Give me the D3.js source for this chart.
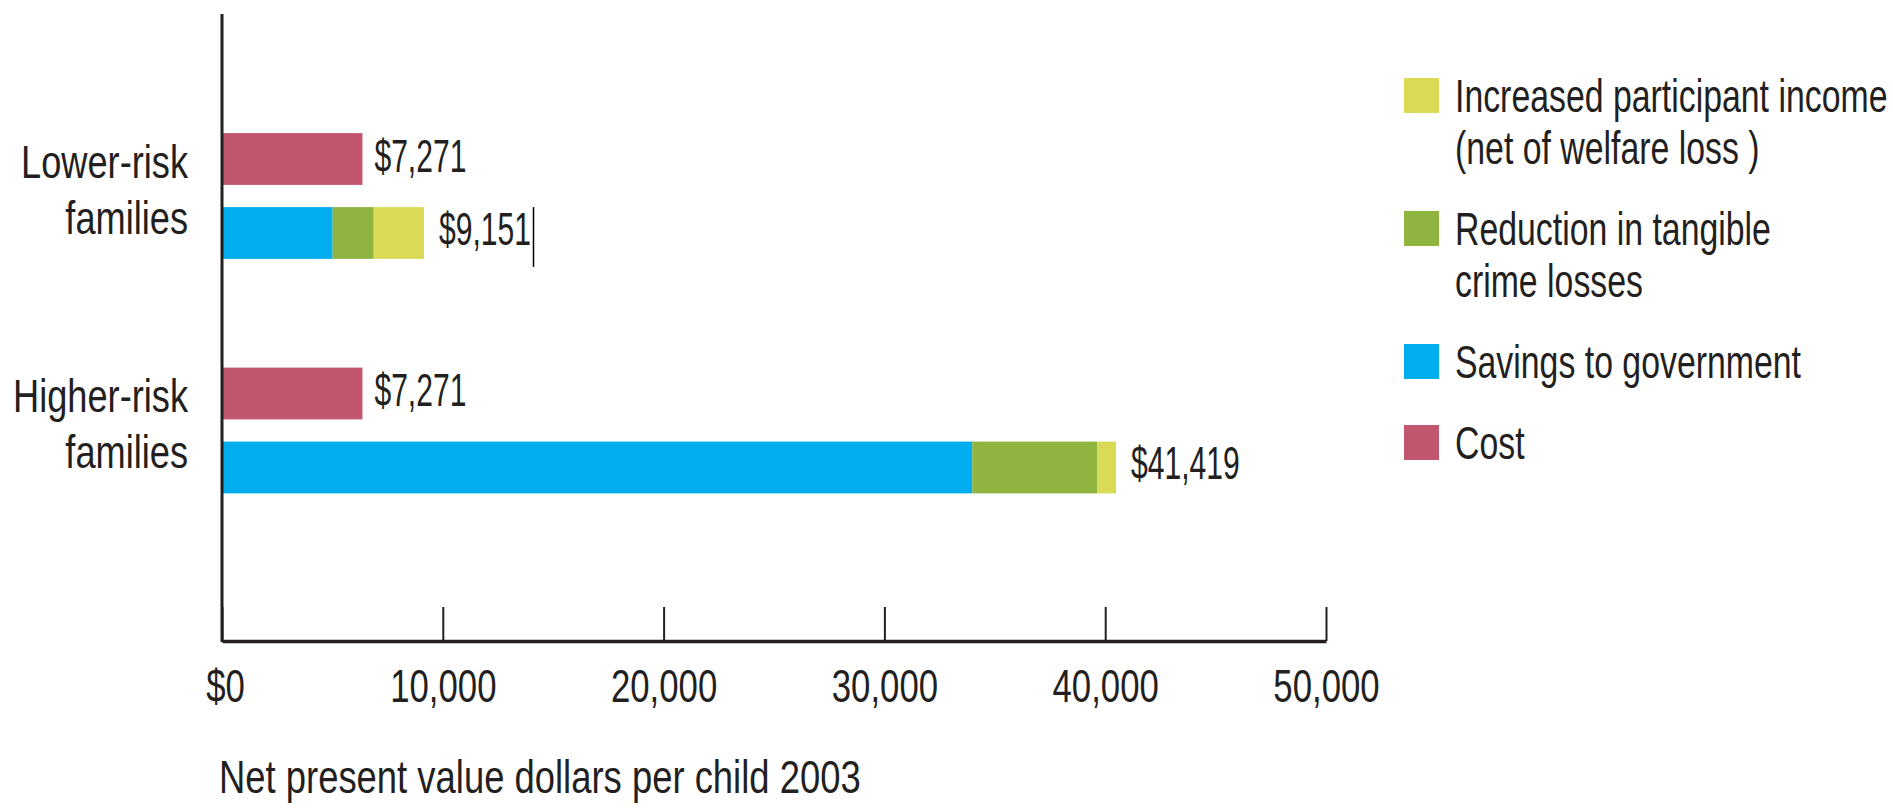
<!DOCTYPE html>
<html>
<head>
<meta charset="utf-8">
<script src="https://cdn.jsdelivr.net/npm/d3@7"></script>
<style>
  body { margin: 0; background: #fff; }
  svg { display: block; }
  text { font-family: "Liberation Sans", Arial, sans-serif; fill: #231f20; }
</style>
</head>
<body>
<script>
// categories and values (bar lengths, labels as printed)
var categories = ["Lower-risk families", "Higher-risk families"];
var categoryLines = [["Lower-risk", "families"], ["Higher-risk", "families"]];
var costValues = [6360, 6360];
var costLabels = ["$7,271", "$7,271"];
var savingsValues = [5010, 33980];
var crimeValues = [1860, 5660];
var incomeValues = [2280, 850];
var benefitLabels = ["$9,151", "$41,419"];
var xTicks = [0, 10000, 20000, 30000, 40000, 50000];
var xTitle = "Net present value dollars per child 2003";

var legendLabels = [
  ["Increased participant income", "(net of welfare loss )"],
  ["Reduction in tangible", "crime losses"],
  ["Savings to government"],
  ["Cost"]
];
var legendColors = ["#d9da55", "#8fb43f", "#00aeef", "#c1566f"];

var width = 1893, height = 808;
var fontSize = 47;
// horizontal squeeze per kind of text, to get the condensed look of the original
var sxTick = 0.74, sxValue = 0.64, sxCat = 0.77, sxTitle = 0.775, sxLegend = 0.72;

var svg = d3.select("body").append("svg")
  .attr("width", width)
  .attr("height", height);

// scales
var xScale = d3.scaleLinear().domain([0, 50000]).range([222, 1326]);
var yGroup = d3.scaleBand().domain(categories).range([78.75, 547.75]);
var yRow = d3.scaleBand().domain(["cost", "benefit"]).range([-74, 74])
  .paddingInner(0.3).paddingOuter(0.15);

function center(c) { return yGroup(c) + yGroup.bandwidth() / 2; }

// helper for condensed text
function label(g, x, y, str, sx, anchor) {
  return g.append("text")
    .attr("transform", "scale(" + sx + ",1)")
    .attr("x", x / sx)
    .attr("y", y)
    .attr("text-anchor", anchor || "start")
    .style("font-size", fontSize + "px")
    .text(str);
}

// benefit rows stacked
var rows = categories.map(function(c, i) {
  return { cat: c, savings: savingsValues[i], crime: crimeValues[i], income: incomeValues[i] };
});
var keys = ["savings", "crime", "income"];
var keyColors = { savings: "#00aeef", crime: "#8fb43f", income: "#d9da55" };
var stacked = d3.stack().keys(keys)(rows);

svg.append("g").selectAll("g")
  .data(stacked)
  .enter().append("g")
    .attr("fill", d => keyColors[d.key])
  .selectAll("rect")
  .data(d => d)
  .enter().append("rect")
    .attr("x", d => xScale(d[0]))
    .attr("width", d => xScale(d[1]) - xScale(d[0]))
    .attr("y", d => center(d.data.cat) + yRow("benefit"))
    .attr("height", yRow.bandwidth());

// cost bars
svg.append("g").selectAll("rect")
  .data(categories)
  .enter().append("rect")
    .attr("fill", "#c1566f")
    .attr("x", xScale(0))
    .attr("width", (d, i) => xScale(costValues[i]) - xScale(0))
    .attr("y", d => center(d) + yRow("cost"))
    .attr("height", yRow.bandwidth());

// value labels
var labels = svg.append("g");
categories.forEach(function(c, i) {
  label(labels, xScale(costValues[i]) + 12,
    center(c) + yRow("cost") + yRow.bandwidth() / 2 + 13, costLabels[i], sxValue);
  var total = savingsValues[i] + crimeValues[i] + incomeValues[i];
  var t = label(labels, xScale(total) + 15,
    center(c) + yRow("benefit") + yRow.bandwidth() / 2 + 12, benefitLabels[i], sxValue);
  if (i === 0) {
    // stray text cursor after the first benefit label
    var bb = t.node().getBBox();
    var cx = (bb.x + bb.width) * sxValue + 2.5;
    labels.append("line")
      .attr("x1", cx).attr("x2", cx)
      .attr("y1", center(c) + yRow("benefit"))
      .attr("y2", center(c) + yRow("benefit") + yRow.bandwidth() + 8)
      .attr("stroke", "#000")
      .attr("stroke-width", 1.5);
  }
});

// category labels
var cats = svg.append("g");
categories.forEach(function(c, i) {
  label(cats, 188, center(c) - 18, categoryLines[i][0], sxCat, "end");
  label(cats, 188, center(c) + 38, categoryLines[i][1], sxCat, "end");
});

// x axis
var xAxis = d3.axisBottom(xScale)
  .tickValues(xTicks)
  .tickSizeInner(-34)
  .tickSizeOuter(0)
  .tickFormat(d => d === 0 ? "$0" : d3.format(",")(d));

var gx = svg.append("g")
  .attr("transform", "translate(0,641)")
  .call(xAxis);
gx.select(".domain").attr("stroke", "#231f20").attr("stroke-width", 3.5);
gx.selectAll(".tick line").attr("stroke", "#231f20").attr("stroke-width", 2);
gx.selectAll(".tick text")
  .attr("transform", "scale(" + sxTick + ",1)")
  .attr("y", 61)
  .attr("dy", 0)
  .attr("fill", "#231f20")
  .style("font-family", "'Liberation Sans', Arial, sans-serif")
  .style("font-size", fontSize + "px");
gx.selectAll(".tick").filter(d => d === 0).select("text").attr("x", 3 / sxTick);

// y axis line
svg.append("line")
  .attr("x1", xScale(0)).attr("x2", xScale(0))
  .attr("y1", 14).attr("y2", 642)
  .attr("stroke", "#231f20")
  .attr("stroke-width", 3);

// axis title
label(svg, 219, 793, xTitle, sxTitle);

// legend
var legend = svg.append("g");
var legendY = 78;
legendLabels.forEach(function(lines, i) {
  legend.append("rect")
    .attr("x", 1404).attr("y", legendY)
    .attr("width", 35).attr("height", 35)
    .attr("fill", legendColors[i]);
  lines.forEach(function(s, j) {
    label(legend, 1455, legendY + 34.5 + j * 52, s, sxLegend);
  });
  legendY += lines.length * 52 + 29;
});
</script>
</body>
</html>
